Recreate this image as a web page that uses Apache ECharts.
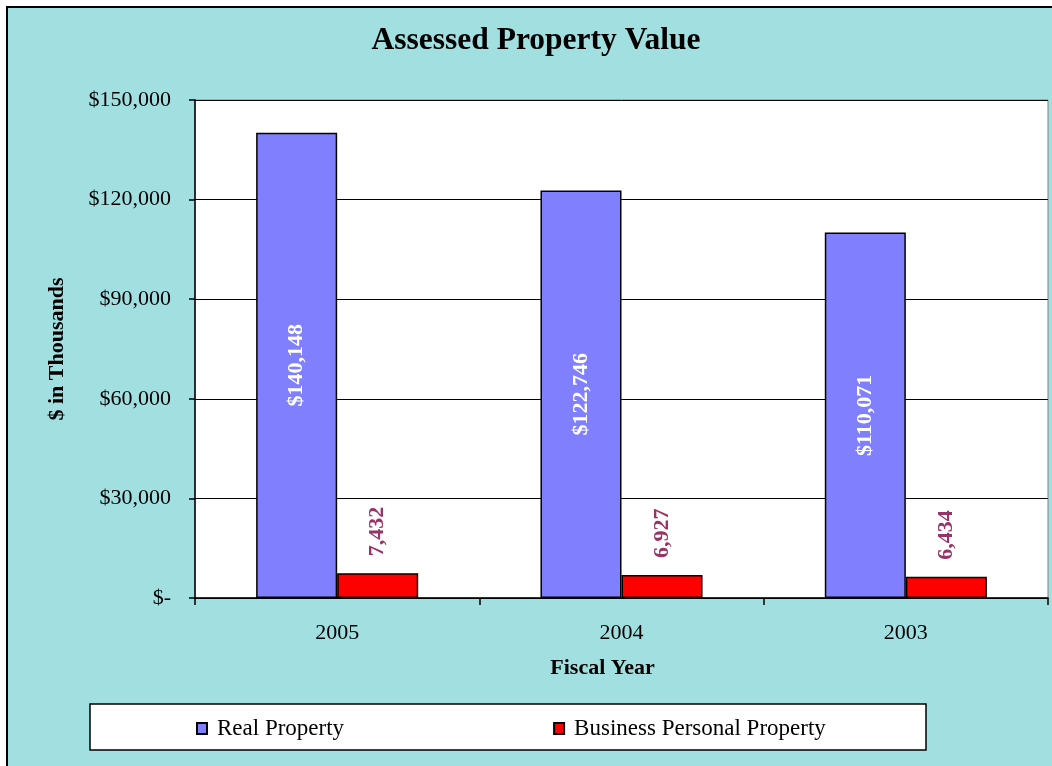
<!DOCTYPE html>
<html>
<head>
<meta charset="utf-8">
<script src="https://cdn.jsdelivr.net/npm/echarts@6/dist/echarts.min.js"></script>
<style>
  html, body { margin: 0; padding: 0; background: #fff; }
  #chart { width: 1052px; height: 766px; }
</style>
</head>
<body>
<div id="chart"></div>
<script>
const years = ['2005', '2004', '2003'];
const realProperty = [140148, 122746, 110071];
const businessProperty = [7432, 6927, 6434];
const seriesNames = ['Real Property', 'Business Personal Property'];

const font = '"Liberation Serif", "Times New Roman", serif';
const fmt = v => v.toLocaleString('en-US');

const myChart = echarts.init(document.getElementById('chart'));

const option = {
  animation: false,
  backgroundColor: '#fff',
  textStyle: { fontFamily: font, color: '#000' },
  graphic: [
    {
      type: 'rect',
      z: -100,
      shape: { x: 7, y: 7, width: 1100, height: 800 },
      style: { fill: '#A2DFE0', stroke: '#000', lineWidth: 2 }
    },
    {
      type: 'rect',
      z: -50,
      shape: { x: 90, y: 704, width: 836, height: 46 },
      style: { fill: '#fff', stroke: '#000', lineWidth: 1.5 }
    }
  ],
  title: {
    text: 'Assessed Property Value',
    left: 531,
    textAlign: 'center',
    top: 20,
    textStyle: { fontFamily: font, fontSize: 31.5, fontWeight: 'bold', color: '#000' }
  },
  legend: {
    data: seriesNames,
    left: 196,
    top: 717,
    padding: 0,
    itemWidth: 10,
    itemHeight: 11,
    itemGap: 209,
    icon: 'rect',
    textStyle: { fontFamily: font, fontSize: 23, color: '#000', padding: [0, 0, 0, 5] }
  },
  grid: {
    left: 195,
    right: 4,
    top: 100,
    bottom: 168,
    show: true,
    backgroundColor: '#fff',
    borderColor: '#808080',
    borderWidth: 1
  },
  xAxis: {
    type: 'category',
    data: years,
    name: 'Fiscal Year',
    nameLocation: 'middle',
    nameGap: 59,
    nameTextStyle: {
      fontFamily: font, fontSize: 22, fontWeight: 'bold', color: '#000',
      padding: [0, 38, 0, 0]
    },
    axisLine: { lineStyle: { color: '#000', width: 1.5 } },
    axisTick: { show: true, length: 7, lineStyle: { color: '#000', width: 1.5 } },
    axisLabel: { fontFamily: font, fontSize: 22, color: '#000', margin: 24 }
  },
  yAxis: {
    type: 'value',
    min: 0,
    max: 150000,
    interval: 30000,
    name: '$ in Thousands',
    nameLocation: 'middle',
    nameGap: 127,
    nameTextStyle: { fontFamily: font, fontSize: 22, fontWeight: 'bold', color: '#000' },
    axisLine: { show: true, lineStyle: { color: '#000', width: 1.5 } },
    axisTick: { show: true, length: 6, lineStyle: { color: '#000', width: 1.5 } },
    axisLabel: {
      fontFamily: font,
      fontSize: 22,
      color: '#000',
      margin: 24,
      formatter: v => (v === 0 ? '$-' : '$' + fmt(v))
    },
    splitLine: { lineStyle: { color: '#000', width: 1 } }
  },
  series: [
    {
      name: seriesNames[0],
      type: 'bar',
      data: realProperty,
      barGap: '0%',
      barCategoryGap: '43%',
      itemStyle: { color: '#8080FF', borderColor: '#000', borderWidth: 1.5 },
      label: {
        show: true,
        position: 'inside',
        rotate: 90,
        fontFamily: font,
        fontSize: 22,
        fontWeight: 'bold',
        color: '#fff',
        formatter: p => '$' + fmt(p.value)
      }
    },
    {
      name: seriesNames[1],
      type: 'bar',
      data: businessProperty,
      itemStyle: { color: '#FF0000', borderColor: '#000', borderWidth: 1.5 },
      label: {
        show: true,
        position: 'top',
        distance: 17,
        rotate: 90,
        align: 'left',
        verticalAlign: 'middle',
        fontFamily: font,
        fontSize: 22,
        fontWeight: 'bold',
        color: '#993366',
        formatter: p => fmt(p.value)
      }
    }
  ]
};

myChart.setOption(option);
window.addEventListener('resize', () => myChart.resize());
</script>
</body>
</html>
